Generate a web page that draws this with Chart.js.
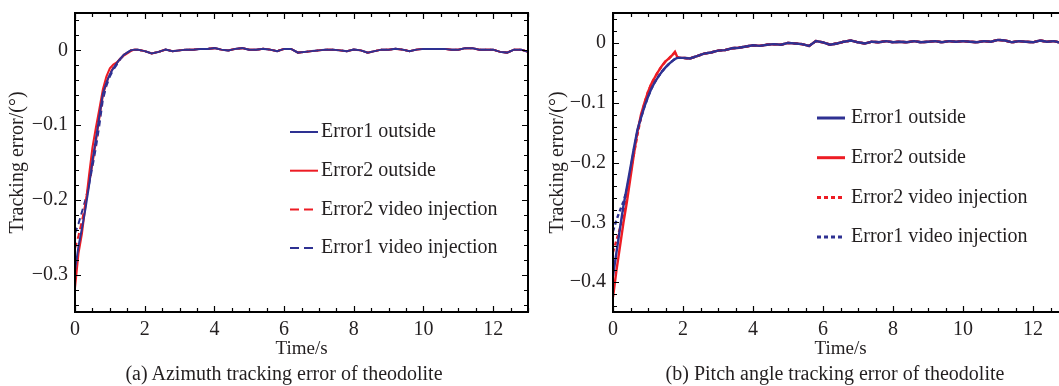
<!DOCTYPE html>
<html>
<head>
<meta charset="utf-8">
<script src="https://cdn.jsdelivr.net/npm/chart.js@4.4.0/dist/chart.umd.min.js"></script>
<style>
  html, body { margin:0; padding:0; background:#fff; overflow:hidden; width:1059px; height:386px; }
  .box { position:absolute; top:0; width:540px; height:386px; }
  .cap { position:absolute; top:362px; font:20px "Liberation Serif", serif; color:#231f20; white-space:nowrap; transform:translateX(-50%); }
</style>
</head>
<body>
<div class="box" style="left:0"><canvas id="chartA"></canvas></div>
<div class="box" style="left:540px"><canvas id="chartB"></canvas></div>
<div class="cap" style="left:284px">(a) Azimuth tracking error of theodolite</div>
<div class="cap" style="left:835px">(b) Pitch angle tracking error of theodolite</div>
<script>
(function(){
    const seriesNames = ['Error1 outside', 'Error2 outside', 'Error2 video injection', 'Error1 video injection'];

    // (a) azimuth: start-up ramp, then the common settled tail
    const rampTimeA = [0,0.1,0.2,0.3,0.4,0.5,0.6,0.7,0.8,0.9,1.0,1.1,1.2,1.3,1.4,1.5,1.6,1.7];
    const err1OutA  = [-0.295,-0.262,-0.238,-0.212,-0.182,-0.148,-0.118,-0.088,-0.058,-0.043,-0.032,-0.024,-0.017,-0.011,-0.006,-0.003,0,0.001];
    const err2OutA  = [-0.318,-0.272,-0.245,-0.208,-0.168,-0.130,-0.103,-0.078,-0.052,-0.035,-0.024,-0.019,-0.016,-0.011,-0.007,-0.004,-0.001,0.001];
    const err2VidA  = [-0.265,-0.248,-0.228,-0.205,-0.180,-0.152,-0.122,-0.090,-0.060,-0.044,-0.031,-0.023,-0.017,-0.011,-0.006,-0.003,0,0.001];
    const err1VidA  = [-0.245,-0.232,-0.216,-0.200,-0.180,-0.156,-0.130,-0.100,-0.066,-0.048,-0.035,-0.026,-0.019,-0.012,-0.007,-0.003,0,0.001];
    const tailTimeA = [1.8,2.0,2.2,2.4,2.6,2.8,3.0,3.2,3.4,3.6,3.8,4.0,4.2,4.4,4.6,4.8,5.0,5.2,5.4,5.6,5.8,6.0,6.2,6.4,6.6,6.8,7.0,7.2,7.4,7.6,7.8,8.0,8.2,8.4,8.6,8.8,9.0,9.2,9.4,9.6,9.8,10.0,10.2,10.4,10.6,10.8,11.0,11.2,11.4,11.6,11.8,12.0,12.2,12.4,12.6,12.8,13.0];
    const tailA     = [0.001,-0.001,-0.004,-0.002,0.001,-0.001,0,0.001,0.001,0.002,0.002,0.003,0.001,0,0.002,0.003,0.001,0.001,0.002,0.001,-0.001,0.002,0.002,-0.003,-0.002,-0.001,0,0.001,0.001,0,-0.001,0.001,0,-0.003,-0.001,0.001,0.001,0.002,0.001,-0.001,0.001,0.002,0.002,0.002,0.002,0.001,0.001,0.003,0.003,0.001,0.001,0.001,-0.002,-0.003,0.001,0.001,-0.002];

    // (b) pitch
    const rampTimeB = [0,0.1,0.2,0.3,0.4,0.5,0.6,0.7,0.8,0.9,1.0,1.1,1.2,1.3,1.4,1.5,1.6,1.7,1.77,1.84,1.9];
    const err1OutB  = [-0.390,-0.350,-0.310,-0.272,-0.240,-0.208,-0.175,-0.145,-0.125,-0.106,-0.090,-0.076,-0.065,-0.056,-0.048,-0.041,-0.035,-0.030,-0.027,-0.025,-0.025];
    const err2OutB  = [-0.425,-0.380,-0.340,-0.300,-0.265,-0.225,-0.185,-0.148,-0.120,-0.100,-0.082,-0.068,-0.057,-0.047,-0.038,-0.031,-0.026,-0.020,-0.015,-0.024,-0.025];
    const err2VidB  = [-0.350,-0.330,-0.310,-0.285,-0.252,-0.217,-0.185,-0.153,-0.124,-0.101,-0.082,-0.068,-0.057,-0.047,-0.038,-0.031,-0.026,-0.020,-0.016,-0.024,-0.025];
    const err1VidB  = [-0.315,-0.296,-0.280,-0.265,-0.245,-0.213,-0.178,-0.148,-0.125,-0.106,-0.090,-0.076,-0.065,-0.056,-0.048,-0.041,-0.035,-0.030,-0.027,-0.025,-0.025];
    const tailTimeB = [2.0,2.2,2.4,2.6,2.8,3.0,3.2,3.4,3.6,3.8,4.0,4.2,4.4,4.6,4.8,5.0,5.2,5.4,5.6,5.8,6.0,6.2,6.4,6.6,6.8,7.0,7.2,7.4,7.6,7.8,8.0,8.2,8.4,8.6,8.8,9.0,9.2,9.4,9.6,9.8,10.0,10.2,10.4,10.6,10.8,11.0,11.2,11.4,11.6,11.8,12.0,12.2,12.4,12.6,12.8,13.0];
    const tailB     = [-0.025,-0.026,-0.022,-0.018,-0.016,-0.013,-0.012,-0.009,-0.008,-0.006,-0.004,-0.005,-0.003,-0.002,-0.003,0,-0.001,-0.002,-0.005,0.003,0.001,-0.003,-0.001,0.002,0.004,0.001,-0.001,0.002,0.001,0.003,0.001,0.002,0.001,0.003,0.001,0.002,0.003,0.001,0.003,0.002,0.003,0.002,0.001,0.003,0.002,0.005,0.004,0.001,0.003,0.002,0.001,0.004,0.002,0.003,0,-0.001];

    const xTicks = [0,2,4,6,8,10,12];
    const yTicksA = [0,-0.1,-0.2,-0.3];
    const yLabelsA = ['0','\u22120.1','\u22120.2','\u22120.3'];
    const yTicksB = [0,-0.1,-0.2,-0.3,-0.4];
    const yLabelsB = ['0','\u22120.1','\u22120.2','\u22120.3','\u22120.4'];

    const BLUE = '#2e3192';
    const RED = '#ed1c24';
    const TXT = '#231f20';
    const FONT = '"Liberation Serif", "Times New Roman", serif';

    function pts(times, vals){
        return times.map((t,i)=>({x:t, y:vals[i]}));
    }

    // frame with inward ticks on all four sides
    const framePlugin = {
        id: 'frame',
        afterDatasetsDraw(chart){
            const {ctx, chartArea:a, scales:{x, y}} = chart;
            ctx.save();
            ctx.strokeStyle = '#000';
            ctx.lineWidth = 1.2;
            ctx.beginPath();
            for(let v=x.min; v<=x.max+1e-9; v+=0.5){
                const px = Math.round(x.getPixelForValue(v))+0.5;
                const len = Math.abs(v%2)<1e-9 ? 6 : 4;
                ctx.moveTo(px,a.bottom); ctx.lineTo(px,a.bottom-len);
                ctx.moveTo(px,a.top); ctx.lineTo(px,a.top+len);
            }
            for(let k=Math.ceil(y.min/0.02-1e-6); k*0.02<=y.max+1e-9; k++){
                const v = k*0.02;
                const py = Math.round(y.getPixelForValue(v))+0.5;
                const len = (k%5===0) ? 6 : 4;
                ctx.moveTo(a.left,py); ctx.lineTo(a.left+len,py);
                ctx.moveTo(a.right,py); ctx.lineTo(a.right-len,py);
            }
            ctx.stroke();
            ctx.lineWidth = 2;
            ctx.strokeRect(a.left, a.top, a.right-a.left, a.bottom-a.top);
            ctx.restore();
        }
    };

    // legend drawn inside the plot area
    const innerLegend = {
        id: 'innerLegend',
        afterDraw(chart, args, o){
            const {ctx, chartArea:a} = chart;
            ctx.save();
            ctx.font = '20px ' + FONT;
            ctx.textBaseline = 'middle';
            ctx.fillStyle = TXT;
            chart.data.datasets.forEach((ds,i)=>{
                const yy = a.top + o.y0 + i*o.dy;
                ctx.strokeStyle = ds.borderColor;
                ctx.lineWidth = o.lw;
                ctx.setLineDash(ds.borderDash && ds.borderDash.length ? o.dash : []);
                ctx.beginPath();
                ctx.moveTo(a.left+o.x0, yy);
                ctx.lineTo(a.left+o.x0+o.len, yy);
                ctx.stroke();
                ctx.setLineDash([]);
                ctx.fillText(ds.label, a.left+o.tx, yy);
            });
            ctx.restore();
        }
    };

    function makeChart(id, cfg){
        const lw = cfg.lw;
        const datasets = [
            {label:seriesNames[0], data:cfg.d[0], borderColor:BLUE, borderWidth:lw},
            {label:seriesNames[1], data:cfg.d[1], borderColor:RED, borderWidth:lw},
            {label:seriesNames[2], data:cfg.d[2], borderColor:RED, borderWidth:lw, borderDash:cfg.dash},
            {label:seriesNames[3], data:cfg.d[3], borderColor:BLUE, borderWidth:lw, borderDash:cfg.dash}
        ];
        return new Chart(document.getElementById(id), {
            type: 'line',
            data: { datasets },
            options: {
                responsive: true,
                maintainAspectRatio: false,
                animation: false,
                layout: { padding: { top: 13, right: 12, bottom: 0, left: 0 } },
                elements: { point: { radius: 0 }, line: { tension: 0 } },
                plugins: {
                    legend: { display: false },
                    tooltip: { enabled: false },
                    innerLegend: cfg.legend
                },
                scales: {
                    x: {
                        type: 'linear', min: 0, max: 13,
                        grid: { display: false, drawTicks: false },
                        border: { display: false },
                        afterBuildTicks: s => { s.ticks = xTicks.map(v=>({value:v})); },
                        afterFit: s => { s.height = 74; s.paddingLeft = 0; s.paddingRight = 0; },
                        ticks: { padding: 6, color: TXT, font: { family: FONT, size: 20 }, maxRotation: 0, autoSkip: false },
                        title: { display: true, text: 'Time/s', color: TXT, font: { family: FONT, size: 19 }, padding: { top: 0, bottom: 26 } }
                    },
                    y: {
                        type: 'linear', min: cfg.ymin, max: 0.05,
                        grid: { display: false, drawTicks: false },
                        border: { display: false },
                        afterBuildTicks: s => { s.ticks = cfg.yt.map(v=>({value:v})); },
                        afterFit: s => { s.width = cfg.yw; s.paddingTop = 0; s.paddingBottom = 0; },
                        ticks: { padding: 7, color: TXT, font: { family: FONT, size: 20 }, autoSkip: false,
                                 callback: v => cfg.yl[cfg.yt.findIndex(t=>Math.abs(t-v)<1e-9)] },
                        title: { display: true, text: 'Tracking error/(\u00B0)', color: TXT, font: { family: FONT, size: 20 }, padding: { top: 6, bottom: 0 } }
                    }
                }
            },
            plugins: [framePlugin, innerLegend]
        });
    }

    makeChart('chartA', {
        d: [
            pts(rampTimeA.concat(tailTimeA), err1OutA.concat(tailA)),
            pts(rampTimeA.concat(tailTimeA), err2OutA.concat(tailA)),
            pts(rampTimeA.concat(tailTimeA), err2VidA.concat(tailA)),
            pts(rampTimeA.concat(tailTimeA), err1VidA.concat(tailA))
        ],
        lw: 2, dash: [6,4], ymin: -0.35, yt: yTicksA, yl: yLabelsA, yw: 75,
        legend: { x0: 215, len: 28, tx: 246, y0: 119, dy: 38.7, lw: 2, dash: [9,5] }
    });

    makeChart('chartB', {
        d: [
            pts(rampTimeB.concat(tailTimeB), err1OutB.concat(tailB)),
            pts(rampTimeB.concat(tailTimeB), err2OutB.concat(tailB)),
            pts(rampTimeB.concat(tailTimeB), err2VidB.concat(tailB)),
            pts(rampTimeB.concat(tailTimeB), err1VidB.concat(tailB))
        ],
        lw: 2.4, dash: [4,3], ymin: -0.45, yt: yTicksB, yl: yLabelsB, yw: 73,
        legend: { x0: 204, len: 28, tx: 238, y0: 105, dy: 39.7, lw: 3, dash: [4,3] }
    });
})();
</script>
</body>
</html>
